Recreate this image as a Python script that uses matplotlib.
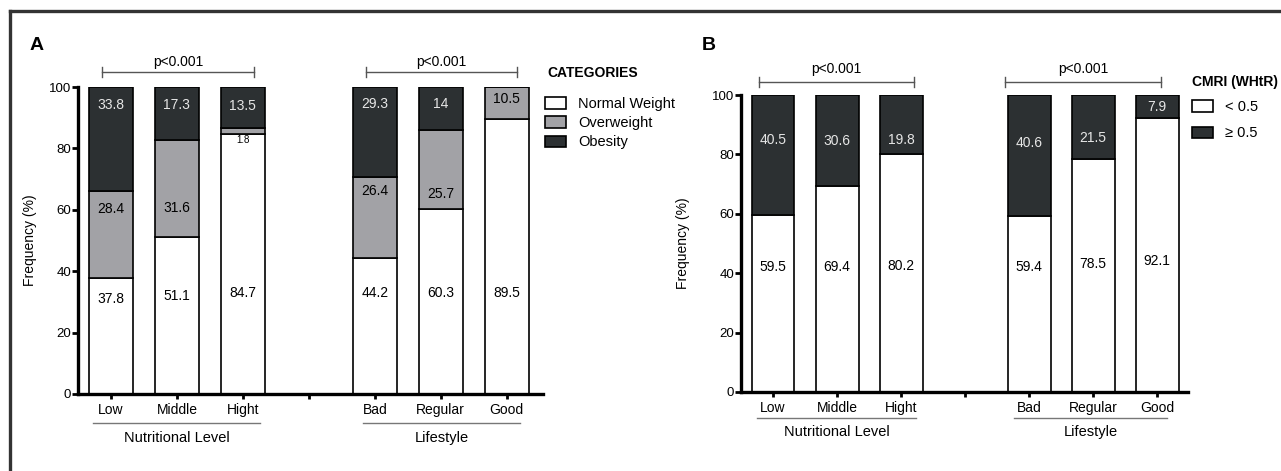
import matplotlib
matplotlib.use("Agg")
import matplotlib.pyplot as plt
import matplotlib.transforms as mtransforms
from matplotlib.lines import Line2D
import numpy as np

plt.rcParams['font.family'] = ['Liberation Sans', 'DejaVu Sans']

# ---------------- data ----------------
categories = ["Low", "Middle", "Hight", "Bad", "Regular", "Good"]
groups = ["Nutritional Level", "Lifestyle"]

# Panel A: weight categories (%)
a_normal = [37.8, 51.1, 84.7, 44.2, 60.3, 89.5]
a_over = [28.4, 31.6, 1.8, 26.4, 25.7, 10.5]
a_obese = [33.8, 17.3, 13.5, 29.3, 14.0, 0.0]
a_series = ["Normal Weight", "Overweight", "Obesity"]
a_legend_title = "CATEGORIES"

# Panel B: CMRI (WHtR) (%)
b_low = [59.5, 69.4, 80.2, 59.4, 78.5, 92.1]
b_high = [40.5, 30.6, 19.8, 40.6, 21.5, 7.9]
b_series = ["< 0.5", "\u2265 0.5"]
b_legend_title = "CMRI (WHtR)"

p_text = "p<0.001"
ylabel = "Frequency (%)"
yticks = [0, 20, 40, 60, 80, 100]

# ---------------- layout / style ----------------
W, H = 1281, 471
pos = np.array([0, 1, 2, 4, 5, 6])
C_WHITE = "white"
C_GRAY = "#a2a2a6"
C_DARK = "#2c3032"
FS = 10

# label y positions (layout only)
a_lab_normal = [31, 32, 33, 33, 33, 33]
a_lab_over = [60.2, 60.5, 82.6, 66, 65, 96]
a_lab_obese = [94, 94, 93.8, 94.5, 94.5, None]
b_lab_low = [42, 42, 42.4, 42, 43, 44]
b_lab_high = [85, 84.5, 85, 84, 85.5, 96]

fig = plt.figure(figsize=(W / 100, H / 100), dpi=100)

# outer frame
fig.add_artist(Line2D([10 / W, 10 / W], [0, 1 - 11 / H], color="#333333", lw=2.4,
                      transform=fig.transFigure))
fig.add_artist(Line2D([10 / W, 1], [1 - 11 / H, 1 - 11 / H], color="#333333", lw=2.4,
                      transform=fig.transFigure))


def style_axes(ax, xlim):
    ax.set_xlim(*xlim)
    ax.set_ylim(0, 100)
    for s in ["top", "right"]:
        ax.spines[s].set_visible(False)
    ax.spines["left"].set_linewidth(2.4)
    ax.spines["bottom"].set_linewidth(2.4)
    ax.spines["left"].set_bounds(0, 100)
    ax.set_yticks(yticks)
    ax.set_yticklabels([str(t) for t in yticks], fontsize=FS - 0.5)
    ax.set_xticks(list(pos) + [3])
    ax.set_xticklabels(categories + [""], fontsize=FS)
    ax.tick_params(axis="y", length=4, width=2, pad=1)
    ax.tick_params(axis="x", length=3.5, width=2, pad=3)
    ax.set_ylabel(ylabel, fontsize=FS)


def group_lines(ax, spans, line_y, text_y):
    trans = mtransforms.blended_transform_factory(ax.transData, ax.transAxes)
    for (x0, x1), g in zip(spans, groups):
        ax.add_line(Line2D([x0, x1], [line_y, line_y], color="#777777", lw=1,
                           transform=trans, clip_on=False))
        ax.text((x0 + x1) / 2, text_y, g, transform=trans, ha="center", va="center",
                fontsize=FS + 0.5)


def brackets(ax, spans, by, ty):
    trans = mtransforms.blended_transform_factory(ax.transData, ax.transAxes)
    for x0, x1 in spans:
        ax.add_line(Line2D([x0, x1], [by, by], color="#555555", lw=1,
                           transform=trans, clip_on=False))
        for xx in (x0, x1):
            ax.add_line(Line2D([xx, xx], [by - 0.016, by + 0.016], color="#555555", lw=1,
                               transform=trans, clip_on=False))
        ax.text((x0 + x1) / 2, ty, p_text, transform=trans, ha="center", va="center",
                fontsize=FS)


def fmt(v):
    return f"{v:g}"


# ---------------- Panel A ----------------
axA = fig.add_axes([78 / W, 1 - 394 / H, 465 / W, 307 / H])
style_axes(axA, (-0.5, 6.55))
bw = 0.67
a_normal_arr = np.array(a_normal)
a_over_arr = np.array(a_over)
a_obese_arr = np.array(a_obese)
hA1 = axA.bar(pos, a_normal_arr, bw, color=C_WHITE, edgecolor="black", lw=1.2, label=a_series[0])
hA2 = axA.bar(pos, a_over_arr, bw, bottom=a_normal_arr, color=C_GRAY, edgecolor="black", lw=1.2,
              label=a_series[1])
hA3 = axA.bar(pos, a_obese_arr, bw, bottom=a_normal_arr + a_over_arr, color=C_DARK,
              edgecolor="black", lw=1.2, label=a_series[2])
for i, x in enumerate(pos):
    axA.text(x, a_lab_normal[i], fmt(a_normal[i]), ha="center", va="center", fontsize=FS)
    small = a_over[i] < 5
    axA.text(x, a_lab_over[i], fmt(a_over[i]), ha="center", va="center",
             fontsize=7 if small else FS, color="black")
    if a_obese[i] > 0:
        axA.text(x, a_lab_obese[i], fmt(a_obese[i]), ha="center", va="center", fontsize=FS,
                 color="#e6e6e6")
axA.yaxis.set_label_coords(-0.088, 0.5)
brackets(axA, [(-0.14, 2.17), (3.87, 6.15)], 1.049, 1.082)
group_lines(axA, [(-0.27, 2.26), (3.82, 6.2)], -0.094, -0.142)

fig.text(547 / W, 1 - 73 / H, a_legend_title, fontsize=FS, fontweight="bold", ha="left",
         va="center")
fig.legend(handles=[hA1, hA2, hA3], labels=a_series, loc="upper left",
           bbox_to_anchor=(545 / W, 1 - 97 / H), bbox_transform=fig.transFigure,
           frameon=False, fontsize=FS + 0.5, borderpad=0, borderaxespad=0,
           handlelength=1.45, handleheight=0.8, handletextpad=0.8, labelspacing=0.35)

# ---------------- Panel B ----------------
axB = fig.add_axes([741 / W, 1 - 392 / H, 447 / W, 297 / H])
style_axes(axB, (-0.5, 6.48))
b_low_arr = np.array(b_low)
b_high_arr = np.array(b_high)
hB1 = axB.bar(pos, b_low_arr, bw, color=C_WHITE, edgecolor="black", lw=1.2, label=b_series[0])
hB2 = axB.bar(pos, b_high_arr, bw, bottom=b_low_arr, color=C_DARK, edgecolor="black", lw=1.2,
              label=b_series[1])
for i, x in enumerate(pos):
    axB.text(x, b_lab_low[i], fmt(b_low[i]), ha="center", va="center", fontsize=FS)
    axB.text(x, b_lab_high[i], fmt(b_high[i]), ha="center", va="center", fontsize=FS,
             color="#e6e6e6")
axB.yaxis.set_label_coords(-0.114, 0.5)
brackets(axB, [(-0.22, 2.2), (3.62, 6.06)], 1.044, 1.087)
group_lines(axB, [(-0.25, 2.23), (3.76, 6.15)], -0.088, -0.135)

fig.text(1192 / W, 1 - 82 / H, b_legend_title, fontsize=FS, fontweight="bold", ha="left",
         va="center")
fig.legend(handles=[hB1, hB2], labels=b_series, loc="upper left",
           bbox_to_anchor=(1192 / W, 1 - 100 / H), bbox_transform=fig.transFigure,
           frameon=False, fontsize=FS + 0.5, borderpad=0, borderaxespad=0,
           handlelength=1.45, handleheight=0.8, handletextpad=0.8, labelspacing=0.85)

# panel letters
fig.text(30 / W, 1 - 45 / H, "A", fontsize=14, fontweight="bold", ha="left", va="center")
fig.text(702 / W, 1 - 45 / H, "B", fontsize=14, fontweight="bold", ha="left", va="center")

fig.savefig("out.png", dpi=100)
